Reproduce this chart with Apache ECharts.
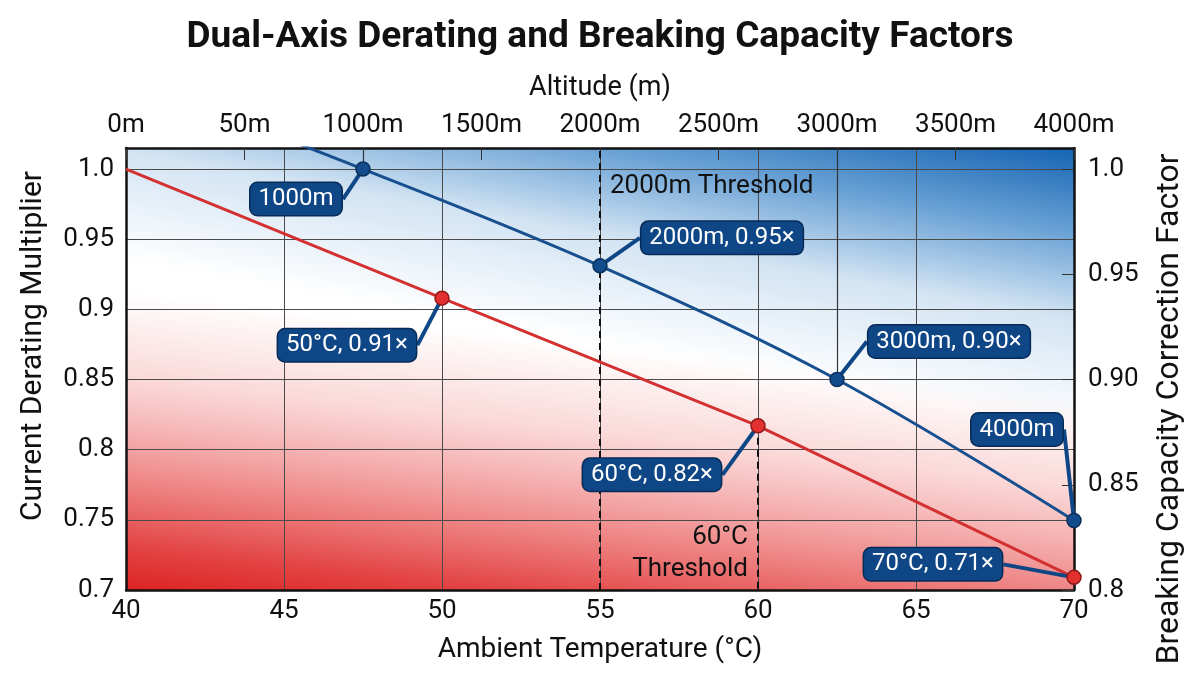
<!DOCTYPE html>
<html>
<head>
<meta charset="utf-8">
<script src="https://cdn.jsdelivr.net/npm/echarts@6/dist/echarts.min.js"></script>
<style>
  html, body { margin: 0; padding: 0; background: #fff; }
  #chart { width: 1200px; height: 675px; }
</style>
</head>
<body>
<div id="chart"></div>
<script>
// temperature derating (bottom / left axes)
var tempC = [40, 50, 60, 70];
var currentFactor = [1.0, 0.908, 0.817, 0.709];
var tempLabels = ['', '50°C, 0.91×', '60°C, 0.82×', '70°C, 0.71×'];

// altitude correction (top / right axes)
var altitudeM = [0, 1000, 2000, 3000, 4000];
var breakingFactor = [1.043, 1.0, 0.954, 0.90, 0.833];
var altLabels = ['', '1000m', '2000m, 0.95×', '3000m, 0.90×', '4000m'];

var altThreshold = 2000;
var tempThreshold = 60;

// tick labels
var tempTicks = ['40', '45', '50', '55', '60', '65', '70'];
var altTicks = ['0m', '50m', '1000m', '1500m', '2000m', '2500m', '3000m', '3500m', '4000m'];
var leftTicks = ['0.7', '0.75', '0.8', '0.85', '0.9', '0.95', '1.0'];
var rightTicks = ['0.8', '0.85', '0.90', '0.95', '1.0'];

// label box offsets from their points (px)
var tempOffsets = [[0, 0], [-95, 47], [-106, 49], [-141, -13]];
var altOffsets = [[0, 0], [-67, 30], [122, -28], [112, -38], [-57, -91]];

function tickFmt(list, min, step) {
  return function (v) {
    var i = Math.round((v - min) / step);
    if (Math.abs(v - (min + i * step)) > step * 0.01) return '';
    return list[i] || '';
  };
}

var boxLabel = {
  show: true,
  position: 'inside',
  color: '#fff',
  fontSize: 24,
  backgroundColor: '#0e4686',
  borderColor: '#072b57',
  borderWidth: 1.5,
  borderRadius: 7,
  padding: [4, 8, 4, 8]
};

// blue wash from the top right corner
var blueWash = {
  type: 'linear', x: 1, y: 0, x2: 0.889, y2: 1.34,
  colorStops: [
    { offset: 0, color: '#1463b3' },
    { offset: 0.14, color: '#6aa2d5' },
    { offset: 0.28, color: '#d3e4f3' },
    { offset: 0.46, color: '#ffffff' },
    { offset: 1, color: '#ffffff' }
  ]
};
// red wash rising from the bottom
var redWash = {
  type: 'linear', x: 0, y: 0.321, x2: -0.036, y2: 0.991,
  colorStops: [
    { offset: 0, color: 'rgba(232,70,70,0)' },
    { offset: 0.3, color: 'rgba(234,78,78,0.22)' },
    { offset: 0.6, color: 'rgba(228,52,52,0.55)' },
    { offset: 0.85, color: 'rgba(222,36,36,0.85)' },
    { offset: 1, color: 'rgba(220,28,28,0.97)' }
  ]
};

var chart = echarts.init(document.getElementById('chart'));
chart.setOption({
  animation: false,
  textStyle: { fontFamily: 'Roboto, "DejaVu Sans", sans-serif' },
  title: {
    text: 'Dual-Axis Derating and Breaking Capacity Factors',
    left: 'center',
    top: 14,
    textStyle: { fontSize: 37, fontWeight: 'bold', color: '#111' }
  },
  grid: {
    left: 126, right: 126, top: 148, bottom: 85,
    show: true,
    z: -2,
    borderWidth: 0,
    backgroundColor: blueWash
  },
  xAxis: [
    {
      type: 'value', position: 'bottom',
      min: 40, max: 70, interval: 5,
      name: 'Ambient Temperature (°C)', nameLocation: 'middle', nameGap: 46,
      nameTextStyle: { fontSize: 28, color: '#111' },
      axisLine: { show: true, onZero: false, lineStyle: { color: '#111', width: 2.5 } },
      axisTick: { show: false },
      axisLabel: { fontSize: 26, color: '#111', margin: 8, formatter: tickFmt(tempTicks, 40, 5) },
      splitLine: { show: true, lineStyle: { color: '#4a4a4a', width: 1 } }
    },
    {
      type: 'value', position: 'top',
      min: 0, max: 4000, interval: 500,
      name: 'Altitude (m)', nameLocation: 'middle', nameGap: 46,
      nameTextStyle: { fontSize: 27, color: '#111' },
      axisLine: { show: true, onZero: false, lineStyle: { color: '#111', width: 2.5 } },
      axisTick: { show: true, inside: true, length: 12, lineStyle: { color: '#333', width: 1 } },
      axisLabel: { fontSize: 26, color: '#111', margin: 10, formatter: tickFmt(altTicks, 0, 500) },
      splitLine: { show: false }
    }
  ],
  yAxis: [
    {
      type: 'value', position: 'left',
      min: 0.7, max: 1.015, interval: 0.05,
      name: 'Current Derating Multiplier', nameLocation: 'middle', nameGap: 78,
      nameTextStyle: { fontSize: 30, color: '#111', padding: [0, 0, 0, 46] },
      axisLine: { show: true, onZero: false, lineStyle: { color: '#111', width: 2.5 } },
      axisTick: { show: false },
      axisLabel: { fontSize: 26, color: '#111', margin: 12, showMaxLabel: false, formatter: tickFmt(leftTicks, 0.7, 0.05) },
      splitLine: { show: true, lineStyle: { color: '#4a4a4a', width: 1 } }
    },
    {
      type: 'value', position: 'right',
      min: 0.8, max: 1.01, interval: 0.05,
      name: 'Breaking Capacity Correction Factor', nameLocation: 'middle', nameGap: 80,
      nameTextStyle: { fontSize: 32, color: '#111', padding: [0, 80, 0, 0] },
      axisLine: { show: true, onZero: false, lineStyle: { color: '#111', width: 2.5 } },
      axisTick: { show: true, inside: true, length: 12, lineStyle: { color: '#333', width: 1 } },
      axisLabel: { fontSize: 26, color: '#111', margin: 14, showMaxLabel: false, formatter: tickFmt(rightTicks, 0.8, 0.05) },
      splitLine: { show: false }
    }
  ],
  series: [
    {
      // background layer only
      name: 'wash',
      type: 'line',
      xAxisIndex: 0, yAxisIndex: 0,
      data: [],
      silent: true,
      z: -1,
      markArea: {
        silent: true,
        z: -1,
        itemStyle: { color: redWash },
        data: [[{ coord: [40, 0.7] }, { coord: [70, 1.015] }]]
      }
    },
    {
      name: 'Current Derating',
      type: 'line',
      xAxisIndex: 0, yAxisIndex: 0,
      data: tempC.map(function (t, i) {
        return {
          value: [t, currentFactor[i]],
          symbol: tempLabels[i] ? 'circle' : 'none',
          label: { show: !!tempLabels[i] }
        };
      }),
      symbolSize: 14,
      lineStyle: { color: '#d33131', width: 3 },
      itemStyle: { color: '#e23030', borderColor: '#8e1818', borderWidth: 1.5 },
      label: Object.assign({}, boxLabel, {
        formatter: function (p) { return tempLabels[p.dataIndex]; }
      }),
      labelLayout: function (p) {
        return { dx: tempOffsets[p.dataIndex][0], dy: tempOffsets[p.dataIndex][1] };
      },
      labelLine: { show: true, lineStyle: { color: '#0e4686', width: 4 } },
      emphasis: { disabled: true },
      z: 3,
      markLine: {
        silent: true,
        z: 2,
        symbol: 'none',
        label: { show: false },
        lineStyle: { color: '#111', width: 2, type: [7, 5] },
        data: [
          [{ coord: [tempThreshold, currentFactor[2]] }, { coord: [tempThreshold, 0.7] }]
        ]
      },
      markPoint: {
        silent: true,
        symbol: 'circle', symbolSize: 0,
        data: [{
          coord: [tempThreshold, 0.726],
          label: {
            show: true, position: 'left', distance: 10,
            formatter: '60°C\nThreshold', align: 'right',
            fontSize: 26, lineHeight: 32, color: '#111'
          }
        }]
      }
    },
    {
      name: 'Breaking Capacity',
      type: 'line',
      xAxisIndex: 1, yAxisIndex: 1,
      smooth: 0.35,
      data: altitudeM.map(function (a, i) {
        return {
          value: [a, breakingFactor[i]],
          symbol: altLabels[i] ? 'circle' : 'none',
          label: { show: !!altLabels[i] }
        };
      }),
      symbolSize: 14,
      lineStyle: { color: '#174f8f', width: 3 },
      itemStyle: { color: '#134c8c', borderColor: '#0a2f5c', borderWidth: 1.5 },
      label: Object.assign({}, boxLabel, {
        formatter: function (p) { return altLabels[p.dataIndex]; }
      }),
      labelLayout: function (p) {
        return { dx: altOffsets[p.dataIndex][0], dy: altOffsets[p.dataIndex][1] };
      },
      labelLine: { show: true, lineStyle: { color: '#0e4686', width: 4 } },
      emphasis: { disabled: true },
      z: 4,
      markLine: {
        silent: true,
        z: 2,
        symbol: 'none',
        label: { show: false },
        data: [
          { xAxis: altThreshold, lineStyle: { color: '#111', width: 2, type: [7, 5] } },
          [{ coord: [1000, 1.01], lineStyle: { color: '#333', width: 1.2, type: 'solid' } }, { coord: [1000, 1.0] }],
          [{ coord: [3000, 1.01], lineStyle: { color: '#333', width: 1.2, type: 'solid' } }, { coord: [3000, 0.90] }]
        ]
      },
      markPoint: {
        silent: true,
        symbol: 'circle', symbolSize: 0,
        data: [{
          coord: [altThreshold, 0.9915],
          label: {
            show: true, position: 'right', distance: 10,
            formatter: '2000m Threshold',
            fontSize: 26, color: '#111'
          }
        }]
      }
    }
  ]
});
</script>
</body>
</html>
